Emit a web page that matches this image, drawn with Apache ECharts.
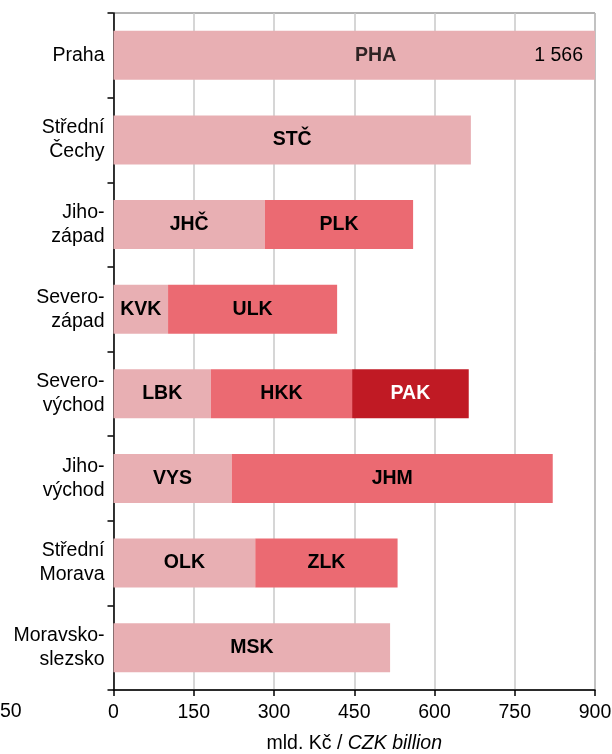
<!DOCTYPE html>
<html>
<head>
<meta charset="utf-8">
<script src="https://cdn.jsdelivr.net/npm/echarts@6/dist/echarts.min.js"></script>
<style>
  html, body { margin: 0; padding: 0; background: #fff; }
  #chart { width: 612px; height: 754px; }
</style>
</head>
<body>
<div id="chart"></div>
<script>
// Regions (cohesion regions), top to bottom
const regions = ['Praha', 'Střední\nČechy', 'Jiho-\nzápad', 'Severo-\nzápad',
                 'Severo-\nvýchod', 'Jiho-\nvýchod', 'Střední\nMorava', 'Moravsko-\nslezsko'];

// First region within each cohesion region
const firstCodes  = ['PHA', 'STČ', 'JHČ', 'KVK', 'LBK', 'VYS', 'OLK', 'MSK'];
const firstValues = [1566, 668, 283, 102, 182, 221, 265, 517];

// Second region
const secondCodes  = [null, null, 'PLK', 'ULK', 'HKK', 'JHM', 'ZLK', null];
const secondValues = [null, null, 277, 316, 264, 600, 266, null];

// Third region
const thirdCodes  = [null, null, null, null, 'PAK', null, null, null];
const thirdValues = [null, null, null, null, 218, null, null, null];

// Axis settings (mld. Kč)
const xMin = 0, xMax = 900, xStep = 150;

// Spot inside the Praha bar where its code is written
const phaLabelAt = 490;

const FONT = 'Liberation Sans, Arial, sans-serif';
const FS = 19.5;

function stackSeries(name, values, codes, color, textColor) {
  return {
    name: name,
    type: 'bar',
    stack: 'total',
    barWidth: '58%',
    data: values.map((v, i) => ({ value: v, code: codes[i] })),
    itemStyle: { color: color },
    label: {
      show: true,
      position: 'inside',
      fontFamily: FONT,
      fontWeight: 'bold',
      fontSize: FS,
      color: textColor,
      formatter: p => (p.data.code && p.data.code !== 'PHA') ? p.data.code : ''
    }
  };
}

const chart = echarts.init(document.getElementById('chart'), null, { renderer: 'canvas' });

const first = stackSeries('first', firstValues, firstCodes, '#E8AFB3', '#000');
// Praha runs off the axis: its value is written at the right end of the bar
first.data[0].label = {
  show: true,
  position: 'insideRight',
  distance: 12,
  fontWeight: 'normal',
  fontSize: FS,
  formatter: '1 566'
};

chart.setOption({
  animation: false,
  grid: {
    left: 113.5, right: 17, top: 13, bottom: 64,
    containLabel: false,
    outerBoundsMode: 'none',
    show: true, borderColor: '#666', borderWidth: 1, backgroundColor: 'transparent'
  },
  xAxis: {
    type: 'value',
    min: xMin, max: xMax, interval: xStep,
    axisLine: { show: true, lineStyle: { color: '#000', width: 1.5 } },
    axisTick: { show: true, length: 6, lineStyle: { color: '#000', width: 1.5 } },
    axisLabel: { fontFamily: FONT, fontSize: FS, color: '#000', margin: 13 },
    splitLine: { show: true, lineStyle: { color: '#C8C8C8', width: 1.5 } },
    name: '{a|mld. Kč / }{b|CZK billion}',
    nameLocation: 'middle',
    nameGap: 44,
    nameTextStyle: {
      rich: {
        a: { fontFamily: FONT, fontSize: FS, color: '#000' },
        b: { fontFamily: FONT, fontSize: FS, color: '#000', fontStyle: 'italic' }
      }
    }
  },
  yAxis: {
    type: 'category',
    data: regions,
    inverse: true,
    axisLine: { show: true, lineStyle: { color: '#000', width: 1.5 } },
    axisTick: { show: true, length: 6, lineStyle: { color: '#000', width: 1.5 } },
    axisLabel: { fontFamily: FONT, fontSize: FS, color: '#000', margin: 9, lineHeight: 24, align: 'right' },
    splitLine: { show: false }
  },
  series: [
    first,
    stackSeries('second', secondValues, secondCodes, '#EB6A72', '#000'),
    stackSeries('third', thirdValues, thirdCodes, '#C01A24', '#fff'),
    {
      name: 'pha-code',
      type: 'scatter',
      symbolSize: 0,
      silent: true,
      data: [[phaLabelAt, regions[0]]],
      label: {
        show: true, position: 'inside',
        fontFamily: FONT, fontWeight: 'bold', fontSize: FS, color: '#000',
        formatter: 'PHA'
      },
      z: 5
    }
  ],
  graphic: [
    {
      type: 'text', left: 0, top: 702,
      style: { text: '50', font: FS + 'px ' + FONT, fill: '#000' }
    }
  ]
});
</script>
</body>
</html>
